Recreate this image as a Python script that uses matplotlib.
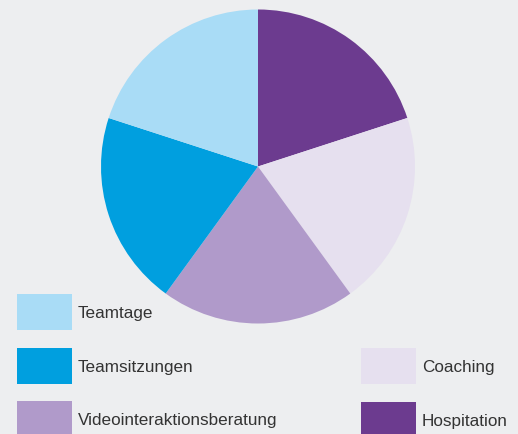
import matplotlib
matplotlib.use("Agg")
import matplotlib.pyplot as plt
from matplotlib.patches import Rectangle

# Data (clockwise from top)
labels = ["Hospitation", "Coaching", "Videointeraktionsberatung", "Teamsitzungen", "Teamtage"]
values = [20, 20, 20, 20, 20]
colors = ["#6c3b8f", "#e6e0ef", "#b09aca", "#009fdf", "#a9dcf6"]

W, H = 518, 435
fig = plt.figure(figsize=(W / 100, H / 100), dpi=100)
bg = "#edeef0"
fig.patch.set_facecolor(bg)
ax = fig.add_axes([0, 0, 1, 1])
ax.set_facecolor(bg)

ax.pie(values, colors=colors, startangle=90, counterclock=False,
       center=(258, H - 167.5), radius=157, frame=True,
       wedgeprops=dict(linewidth=0))
ax.set_xlim(0, W)
ax.set_ylim(0, H)
ax.set_aspect("auto")
ax.axis("off")

# Legend layout: (label, x, top y)
legend_items = [
    ("Teamtage", 17, 295),
    ("Teamsitzungen", 17, 349),
    ("Videointeraktionsberatung", 17, 402),
    ("Coaching", 361, 349),
    ("Hospitation", 361, 403),
]
cmap = dict(zip(labels, colors))
fam = ["Liberation Sans", "DejaVu Sans"]
for lab, x, y in legend_items:
    ax.add_patch(Rectangle((x, H - y - 36), 55, 36, facecolor=cmap[lab], edgecolor="none"))
    ax.text(x + 61, H - y - 19, lab, ha="left", va="center", fontsize=12.3,
            color="#333333", family=fam)

fig.savefig("out.png", dpi=100, facecolor=bg)
